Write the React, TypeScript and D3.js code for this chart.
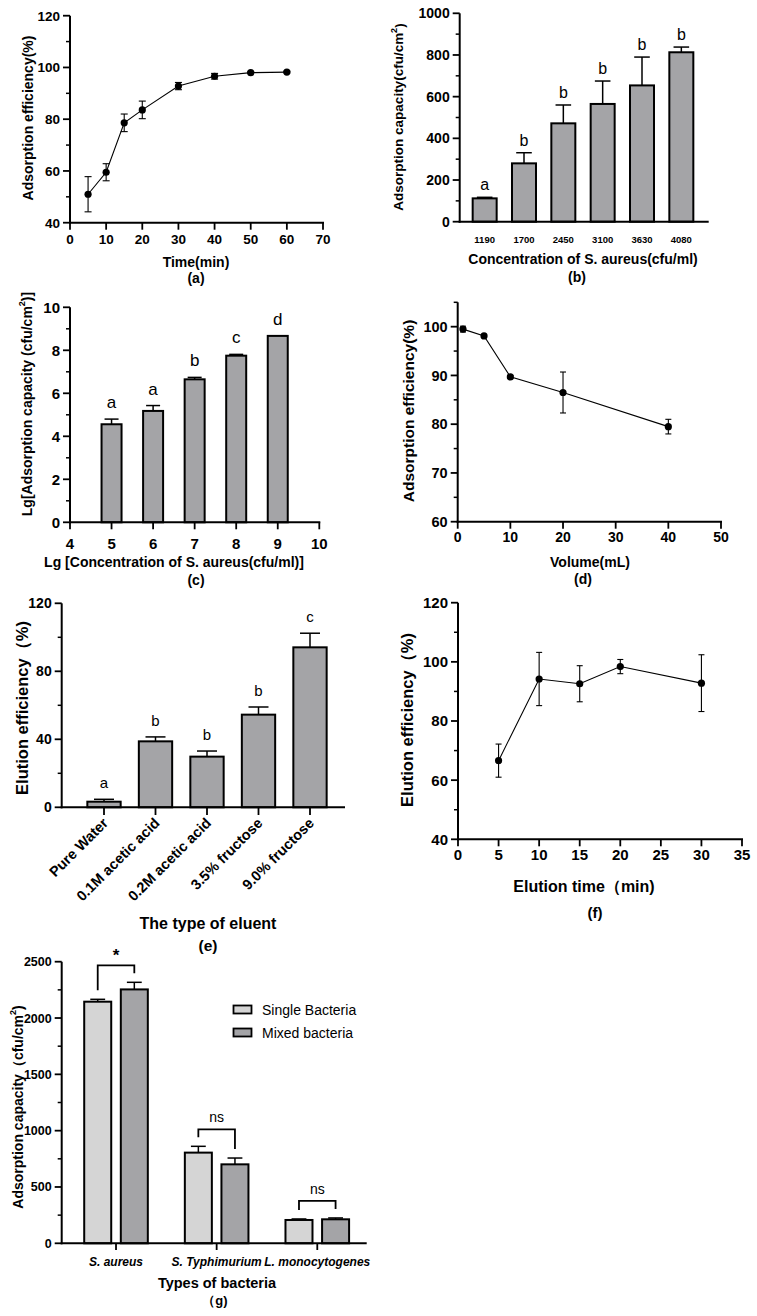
import React from 'react';
import * as d3 from 'd3';

const FONT = "'Liberation Sans', Arial, Helvetica, sans-serif";
const BAR = '#a4a4a7';
const BAR_LIGHT = '#d5d5d5';

// (a) adsorption efficiency vs time
const timeA = [5, 10, 15, 20, 30, 40, 50, 60];
const effA = [51.0, 59.5, 78.6, 83.6, 92.8, 96.6, 98.0, 98.2];
const errA = [6.8, 3.3, 3.4, 3.4, 1.4, 1.1, 0.3, 0.3];
const ticksA_x = [0, 10, 20, 30, 40, 50, 60, 70];
const ticksA_y = [40, 60, 80, 100, 120];

// (b) adsorption capacity vs concentration
const concB = ['1190', '1700', '2450', '3100', '3630', '4080'];
const capB = [112, 280, 472, 565, 654, 813];
const errB = [5, 51, 88, 110, 136, 25];
const letB = ['a', 'b', 'b', 'b', 'b', 'b'];
const ticksB_y = [0, 200, 400, 600, 800, 1000];

// (c) Lg capacity vs Lg concentration
const lgConcC = [5, 6, 7, 8, 9];
const lgCapC = [4.56, 5.18, 6.65, 7.75, 8.67];
const errC = [0.24, 0.25, 0.09, 0.06, 0];
const letC = ['a', 'a', 'b', 'c', 'd'];
const ticksC_x = [4, 5, 6, 7, 8, 9, 10];
const ticksC_y = [0, 2, 4, 6, 8, 10];

// (d) adsorption efficiency vs volume
const volD = [1, 5, 10, 20, 40];
const effD = [99.5, 98.1, 89.7, 86.5, 79.5];
const errD = [0.6, 0.3, 0.3, 4.2, 1.5];
const ticksD_x = [0, 10, 20, 30, 40, 50];
const ticksD_y = [60, 70, 80, 90, 100];

// (e) elution efficiency by eluent
const eluentE = ['Pure Water', '0.1M acetic acid', '0.2M acetic acid', '3.5% fructose', '9.0% fructose'];
const elutE = [3.3, 38.8, 29.8, 54.5, 94.1];
const errE = [1.4, 2.6, 3.3, 4.5, 8.3];
const letE = ['a', 'b', 'b', 'b', 'c'];
const ticksE_y = [0, 40, 80, 120];

// (f) elution efficiency vs elution time
const timeF = [5, 10, 15, 20, 30];
const elutF = [66.6, 94.2, 92.6, 98.4, 92.8];
const errF = [5.6, 9.0, 6.1, 2.4, 9.6];
const ticksF_x = [0, 5, 10, 15, 20, 25, 30, 35];
const ticksF_y = [40, 60, 80, 100, 120];

// (g) single vs mixed bacteria
const bacteriaG = ['S. aureus', 'S. Typhimurium', 'L. monocytogenes'];
const seriesG = ['Single Bacteria', 'Mixed bacteria'];
const singleG = [2145, 805, 207];
const mixedG = [2254, 701, 213];
const errSingleG = [21, 56, 9];
const errMixedG = [63, 56, 12];
const sigG = ['*', 'ns', 'ns'];
const ticksG_y = [0, 500, 1000, 1500, 2000, 2500];

type Lin = d3.ScaleLinear<number, number>;

function mids(t: number[]) {
  const r: number[] = [];
  for (let i = 0; i < t.length - 1; i++) r.push((t[i] + t[i + 1]) / 2);
  return r;
}

function YAxis({ y, x, ticks, minor, fs, top }: { y: Lin; x: number; ticks: number[]; minor: number[]; fs: number; top?: number }) {
  const d = y.domain();
  return (
    <g>
      <line x1={x} x2={x} y1={top !== undefined ? y(top) : y(d[1])} y2={y(d[0]) + 1} stroke="#000" strokeWidth={2} />
      {ticks.map((t) => (
        <g key={'t' + t}>
          <line x1={x - 7} x2={x} y1={y(t)} y2={y(t)} stroke="#000" strokeWidth={1.8} />
          <text x={x - 10} y={y(t)} dy="0.36em" textAnchor="end" fontSize={fs} fontWeight="bold" fontFamily={FONT}>{t}</text>
        </g>
      ))}
      {minor.map((t) => (
        <line key={'m' + t} x1={x - 4} x2={x} y1={y(t)} y2={y(t)} stroke="#000" strokeWidth={1.5} />
      ))}
    </g>
  );
}

function XAxisLin({ xs, y, ticks, fs, x0, x1, labelDy }: { xs: Lin; y: number; ticks: number[]; fs: number; x0?: number; x1?: number; labelDy: number }) {
  const d = xs.domain();
  return (
    <g>
      <line x1={x0 !== undefined ? x0 : xs(d[0]) - 1} x2={x1 !== undefined ? x1 : xs(d[1]) + 1} y1={y} y2={y} stroke="#000" strokeWidth={2} />
      {ticks.map((t) => (
        <g key={t}>
          <line x1={xs(t)} x2={xs(t)} y1={y} y2={y + 7} stroke="#000" strokeWidth={1.8} />
          <text x={xs(t)} y={y + labelDy} textAnchor="middle" fontSize={fs} fontWeight="bold" fontFamily={FONT}>{t}</text>
        </g>
      ))}
    </g>
  );
}

function Title({ x, y, fs, children, rotate, weight = 'bold' }: any) {
  return (
    <text
      x={rotate ? 0 : x}
      y={rotate ? 0 : y}
      transform={rotate ? `translate(${x},${y}) rotate(-90)` : undefined}
      textAnchor="middle"
      dominantBaseline="central"
      fontSize={fs}
      fontWeight={weight}
      fontFamily={FONT}
    >
      {children}
    </text>
  );
}

function LineSeries({ xs, ys, xv, yv, ev, cap }: { xs: Lin; ys: Lin; xv: number[]; yv: number[]; ev: number[]; cap: number }) {
  const pts: [number, number][] = xv.map((v, i) => [xs(v), ys(yv[i])]);
  const path = d3.line()(pts) || '';
  return (
    <g>
      <path d={path} fill="none" stroke="#000" strokeWidth={1.1} />
      {xv.map((v, i) => {
        const cx = xs(v);
        const t = ys(yv[i] + ev[i]);
        const b = ys(yv[i] - ev[i]);
        return (
          <g key={i} stroke="#000" strokeWidth={1.1}>
            <line x1={cx} x2={cx} y1={t} y2={b} />
            <line x1={cx - cap / 2} x2={cx + cap / 2} y1={t} y2={t} />
            <line x1={cx - cap / 2} x2={cx + cap / 2} y1={b} y2={b} />
          </g>
        );
      })}
      {pts.map((p, i) => (
        <circle key={'c' + i} cx={p[0]} cy={p[1]} r={3.6} fill="#000" />
      ))}
    </g>
  );
}

function Bar({ cx, w, y0, err, ys, val, fill, capRatio = 0.6, both = false }: any) {
  const top = ys(val);
  const et = ys(val + err);
  const eb = ys(val - err);
  const cw = w * capRatio;
  return (
    <g>
      {err > 0 && (
        <g stroke="#000" strokeWidth={1.5}>
          <line x1={cx} x2={cx} y1={et} y2={both ? eb : top} />
          <line x1={cx - cw / 2} x2={cx + cw / 2} y1={et} y2={et} />
          {both && <line x1={cx - cw / 2} x2={cx + cw / 2} y1={eb} y2={eb} />}
        </g>
      )}
      <rect x={cx - w / 2} y={top} width={w} height={y0 - top} fill={fill} stroke="#000" strokeWidth={2} />
    </g>
  );
}

function PanelA() {
  const xs = d3.scaleLinear().domain([0, 70]).range([70, 323]);
  const ys = d3.scaleLinear().domain([40, 120]).range([222.7, 15.7]);
  return (
    <g>
      <LineSeries xs={xs} ys={ys} xv={timeA} yv={effA} ev={errA} cap={7} />
      <YAxis y={ys} x={70} ticks={ticksA_y} minor={mids(ticksA_y)} fs={13.5} />
      <XAxisLin xs={xs} y={222.7} ticks={ticksA_x} fs={13.5} labelDy={21} x0={69} />
      <Title x={28} y={118} fs={14} rotate>Adsorption efficiency(%)</Title>
      <Title x={196} y={262} fs={14}>Time(min)</Title>
      <Title x={196} y={278} fs={14}>(a)</Title>
    </g>
  );
}

function PanelB() {
  const xs = d3.scaleBand<string>().domain(concB).range([465, 701]).paddingInner(0.39).paddingOuter(0.195);
  const ys = d3.scaleLinear().domain([0, 1000]).range([221.7, 13.3]);
  const w = xs.bandwidth();
  return (
    <g>
      {concB.map((c, i) => {
        const cx = (xs(c) as number) + w / 2;
        return (
          <g key={c}>
            <Bar cx={cx} w={w} y0={ys(0)} ys={ys} val={capB[i]} err={errB[i]} fill={BAR} capRatio={0.65} />
            <text x={cx} y={ys(capB[i] + errB[i]) - 7} textAnchor="middle" fontSize={16} fontFamily={FONT}>{letB[i]}</text>
            <text x={cx} y={240} dy="0.36em" textAnchor="middle" fontSize={9.5} fontWeight="bold" fontFamily={FONT}>{c}</text>
          </g>
        );
      })}
      <YAxis y={ys} x={459.7} ticks={ticksB_y} minor={mids(ticksB_y)} fs={14} />
      <line x1={458.7} x2={708.7} y1={221.7} y2={221.7} stroke="#000" strokeWidth={2} />
      <Title x={398.5} y={117} fs={13.5} rotate>
        Adsorption capacity(cfu/cm<tspan dy={-5} fontSize={9}>2</tspan><tspan dy={5}>)</tspan>
      </Title>
      <Title x={583} y={259} fs={14}>Concentration of S. aureus(cfu/ml)</Title>
      <Title x={577} y={277} fs={14}>(b)</Title>
    </g>
  );
}

function PanelC() {
  const xs = d3.scaleLinear().domain([4, 10]).range([70, 319.3]);
  const ys = d3.scaleLinear().domain([0, 10]).range([522.3, 307.3]);
  const w = 20;
  return (
    <g>
      {lgConcC.map((c, i) => {
        const cx = xs(c);
        return (
          <g key={c}>
            <Bar cx={cx} w={w} y0={ys(0)} ys={ys} val={lgCapC[i]} err={errC[i]} fill={BAR} capRatio={0.7} both />
            <text x={cx} y={ys(lgCapC[i] + errC[i]) - 11} textAnchor="middle" fontSize={17} fontFamily={FONT}>{letC[i]}</text>
          </g>
        );
      })}
      <YAxis y={ys} x={70} ticks={ticksC_y} minor={mids(ticksC_y)} fs={15} />
      <XAxisLin xs={xs} y={522.3} ticks={ticksC_x} fs={15} labelDy={27} x0={69} />
      <Title x={27} y={404} fs={14} rotate>
        Lg[Adsorption capacity (cfu/cm<tspan dy={-5} fontSize={9}>2</tspan><tspan dy={5}>)]</tspan>
      </Title>
      <Title x={174} y={562} fs={14}>Lg [Concentration of S. aureus(cfu/ml)]</Title>
      <Title x={196} y={580} fs={14}>(c)</Title>
    </g>
  );
}

function PanelD() {
  const xs = d3.scaleLinear().domain([0, 50]).range([457.7, 721]);
  const ys = d3.scaleLinear().domain([60, 105]).range([521.7, 302.3]);
  return (
    <g>
      <LineSeries xs={xs} ys={ys} xv={volD} yv={effD} ev={errD} cap={6} />
      <YAxis y={ys} x={457.7} ticks={ticksD_y} minor={[65, 75, 85, 95, 105]} fs={14.5} />
      <XAxisLin xs={xs} y={521.7} ticks={ticksD_x} fs={14} labelDy={20} x0={456.7} />
      <Title x={408} y={411} fs={15.5} rotate>Adsorption efficiency(%)</Title>
      <Title x={590} y={562} fs={14}>Volume(mL)</Title>
      <Title x={583} y={579} fs={14}>(d)</Title>
    </g>
  );
}

function PanelE() {
  const xs = d3.scaleBand<string>().domain(eluentE).range([78.25, 335.75]).paddingInner(0.353).paddingOuter(0.1765);
  const ys = d3.scaleLinear().domain([0, 120]).range([807.3, 603.3]);
  const w = xs.bandwidth();
  return (
    <g>
      {eluentE.map((c, i) => {
        const cx = (xs(c) as number) + w / 2;
        return (
          <g key={c}>
            <Bar cx={cx} w={w} y0={ys(0)} ys={ys} val={elutE[i]} err={errE[i]} fill={BAR} capRatio={0.6} />
            <text x={cx} y={ys(elutE[i] + errE[i]) - 11} textAnchor="middle" fontSize={15} fontFamily={FONT}>{letE[i]}</text>
            <line x1={cx} x2={cx} y1={807.3} y2={815} stroke="#000" strokeWidth={1.8} />
            <text transform={`translate(${cx + 5},${824}) rotate(-45)`} textAnchor="end" fontSize={14.5} fontWeight="bold" fontFamily={FONT}>{c}</text>
          </g>
        );
      })}
      <YAxis y={ys} x={61.7} ticks={ticksE_y} minor={mids(ticksE_y)} fs={14} />
      <line x1={60.7} x2={345} y1={807.3} y2={807.3} stroke="#000" strokeWidth={2} />
      <Title x={22} y={708} fs={16.5} rotate>Elution efficiency（%)</Title>
      <Title x={208} y={923} fs={16}>The type of eluent</Title>
      <Title x={208} y={945} fs={15.5}>(e)</Title>
    </g>
  );
}

function PanelF() {
  const xs = d3.scaleLinear().domain([0, 35]).range([458, 742]);
  const ys = d3.scaleLinear().domain([40, 120]).range([839.3, 602.7]);
  return (
    <g>
      <LineSeries xs={xs} ys={ys} xv={timeF} yv={elutF} ev={errF} cap={6} />
      <YAxis y={ys} x={458} ticks={ticksF_y} minor={mids(ticksF_y)} fs={15} />
      <XAxisLin xs={xs} y={839.3} ticks={ticksF_x} fs={15} labelDy={21} x0={457} />
      <Title x={407} y={720} fs={16.5} rotate>Elution efficiency（%)</Title>
      <Title x={584} y={886} fs={16}>Elution time（min)</Title>
      <Title x={595} y={912} fs={15}>(f)</Title>
    </g>
  );
}

function PanelG() {
  const xs = d3.scaleBand<string>().domain(bacteriaG).range([65.7, 367.6]);
  const sub = d3.scaleBand<string>().domain(seriesG).range([-36.6, 36.6]).paddingInner(0.262).paddingOuter(0.131);
  const ys = d3.scaleLinear().domain([0, 2500]).range([1243.3, 961.7]);
  const w = sub.bandwidth();
  const vals = [singleG, mixedG];
  const errs = [errSingleG, errMixedG];
  const fills = [BAR_LIGHT, BAR];
  return (
    <g>
      {bacteriaG.map((b, i) => {
        const gc = (xs(b) as number) + xs.bandwidth() / 2;
        const cxs = seriesG.map((s) => gc + (sub(s) as number) + w / 2);
        const tops = seriesG.map((_, k) => ys(vals[k][i] + errs[k][i]));
        const by = Math.min(tops[0], tops[1]) - 17;
        return (
          <g key={b}>
            {seriesG.map((s, k) => (
              <Bar key={s} cx={cxs[k]} w={w} y0={ys(0)} ys={ys} val={vals[k][i]} err={errs[k][i]} fill={fills[k]} capRatio={0.55} />
            ))}
            <path
              d={`M${cxs[0]},${tops[0] - 9}V${by}H${cxs[1]}V${tops[1] - 9}`}
              fill="none"
              stroke="#000"
              strokeWidth={1.8}
            />
            {sigG[i] === '*' ? (
              <text x={gc} y={by - 4} textAnchor="middle" fontSize={17} fontWeight="bold" fontFamily={FONT}>*</text>
            ) : (
              <text x={gc} y={by - 7} textAnchor="middle" fontSize={14} fontFamily={FONT}>{sigG[i]}</text>
            )}
            <line x1={gc} x2={gc} y1={1243.3} y2={1250} stroke="#000" strokeWidth={1.8} />
            <text x={gc} y={1262} dy="0.36em" textAnchor="middle" fontSize={12} fontWeight="bold" fontStyle="italic" fontFamily={FONT}>{b}</text>
          </g>
        );
      })}
      <YAxis y={ys} x={61.7} ticks={ticksG_y} minor={mids(ticksG_y)} fs={12.5} />
      <line x1={60.7} x2={366.7} y1={1243.3} y2={1243.3} stroke="#000" strokeWidth={2} />
      {seriesG.map((s, k) => (
        <g key={s}>
          <rect x={233.5} y={1005.5 + k * 23} width={18} height={8} fill={fills[k]} stroke="#000" strokeWidth={1.8} />
          <text x={262} y={1009.5 + k * 23} dy="0.36em" fontSize={14} fontFamily={FONT}>{s}</text>
        </g>
      ))}
      <Title x={18} y={1107} fs={14} rotate>
        Adsorption capacity（cfu/cm<tspan dy={-5} fontSize={9}>2</tspan><tspan dy={5}>)</tspan>
      </Title>
      <Title x={217} y={1283} fs={14.5}>Types of bacteria</Title>
      <Title x={215} y={1300} fs={13}>（g)</Title>
    </g>
  );
}

export default function App() {
  return (
    <svg width={757} height={1316} viewBox="0 0 757 1316" style={{ position: 'absolute', left: 0, top: 0, background: '#fff' }}>
      <rect x={0} y={0} width={757} height={1316} fill="#fff" />
      <PanelA />
      <PanelB />
      <PanelC />
      <PanelD />
      <PanelE />
      <PanelF />
      <PanelG />
    </svg>
  );
}
